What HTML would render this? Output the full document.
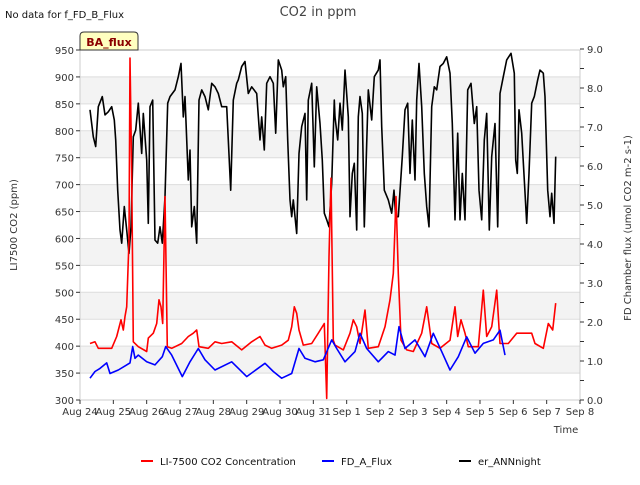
<!DOCTYPE html>
<html><head><meta charset="utf-8"><style>
body{margin:0;background:#fff;font-family:"Liberation Sans","DejaVu Sans",sans-serif}
svg text{font-family:"DejaVu Sans","Liberation Sans",sans-serif}
</style></head><body>
<svg id="chart" width="640" height="480" viewBox="0 0 640 480" xmlns="http://www.w3.org/2000/svg">
<g id="bands"></g>
<g id="grid"></g>
<g id="series"></g>
<rect x="80" y="50" width="500" height="350" fill="none" stroke="#ccc" stroke-width="1"/>
<g id="axes" font-size="10" fill="#333"></g>
<text x="318" y="16" text-anchor="middle" font-size="13" fill="#444">CO2 in ppm</text>
<text x="5" y="18" font-size="10" fill="#111">No data for f_FD_B_Flux</text>
<g>
<path d="M80,50 L80,36 Q80,32 84,32 L134,32 Q138,32 138,36 L138,50 Z" fill="#ffffc0" stroke="#333"/>
<text x="109" y="46" text-anchor="middle" font-size="11" font-weight="bold" fill="#8b0000">BA_flux</text>
</g>
<text transform="translate(17,225) rotate(-90)" text-anchor="middle" font-size="10" fill="#333">LI7500 CO2 (ppm)</text>
<text transform="translate(631,228) rotate(-90)" text-anchor="middle" font-size="10" fill="#333">FD Chamber flux (umol CO2 m-2 s-1)</text>
<text x="566" y="433" text-anchor="middle" font-size="10" fill="#333">Time</text>
<g font-size="10" fill="#111">
<g><line x1="141" y1="461" x2="153" y2="461" stroke="#ff0000" stroke-width="2"/><text x="160" y="465">LI-7500 CO2 Concentration</text></g>
<g><line x1="322" y1="461" x2="334" y2="461" stroke="#0000ff" stroke-width="2"/><text x="341" y="465">FD_A_Flux</text></g>
<g><line x1="459" y1="461" x2="471" y2="461" stroke="#000" stroke-width="2"/><text x="478" y="465">er_ANNnight</text></g>
</g>
</svg>
<script>
const xTickLabels=["Aug 24","Aug 25","Aug 26","Aug 27","Aug 28","Aug 29","Aug 30","Aug 31","Sep 1","Sep 2","Sep 3","Sep 4","Sep 5","Sep 6","Sep 7","Sep 8"];
const leftTicks=[300,350,400,450,500,550,600,650,700,750,800,850,900,950];
const rightTicks=[0,1,2,3,4,5,6,7,8,9];
const blackT=[0.30,0.40,0.47,0.55,0.67,0.75,0.85,0.95,1.03,1.07,1.13,1.20,1.25,1.33,1.40,1.47,1.53,1.60,1.67,1.75,1.85,1.90,2.00,2.05,2.10,2.18,2.25,2.33,2.40,2.47,2.55,2.63,2.70,2.85,2.95,3.03,3.10,3.15,3.25,3.30,3.35,3.43,3.50,3.57,3.65,3.75,3.85,3.95,4.05,4.15,4.25,4.40,4.52,4.60,4.70,4.75,4.85,4.95,5.05,5.15,5.30,5.40,5.45,5.53,5.60,5.70,5.80,5.87,5.95,6.05,6.10,6.17,6.23,6.30,6.35,6.40,6.50,6.57,6.65,6.75,6.80,6.85,6.95,7.03,7.10,7.20,7.27,7.33,7.40,7.47,7.55,7.63,7.65,7.73,7.80,7.87,7.95,8.05,8.10,8.17,8.23,8.30,8.35,8.40,8.47,8.53,8.60,8.65,8.75,8.83,8.95,9.00,9.05,9.13,9.25,9.35,9.42,9.47,9.55,9.67,9.75,9.83,9.90,9.97,10.05,10.10,10.17,10.25,10.33,10.40,10.47,10.55,10.63,10.70,10.80,10.90,11.00,11.10,11.17,11.25,11.33,11.40,11.47,11.55,11.63,11.73,11.83,11.90,11.97,12.05,12.13,12.20,12.28,12.35,12.45,12.53,12.60,12.70,12.80,12.93,13.03,13.07,13.12,13.17,13.25,13.33,13.40,13.47,13.55,13.63,13.73,13.80,13.90,13.95,14.03,14.10,14.15,14.22,14.27];
const blackV=[7.44,6.75,6.50,7.52,7.78,7.31,7.39,7.52,7.18,6.67,5.38,4.36,4.02,4.96,4.36,3.76,4.44,6.75,6.92,7.61,6.32,7.35,6.15,4.53,7.52,7.69,4.10,4.02,4.44,4.02,5.21,7.61,7.78,7.95,8.29,8.63,7.26,7.78,5.64,6.41,4.44,4.96,4.02,7.69,7.95,7.78,7.44,8.12,8.03,7.86,7.52,7.52,5.38,7.69,8.12,8.21,8.55,8.68,7.86,8.03,7.86,6.67,7.26,6.41,8.12,8.29,8.12,6.84,8.72,8.46,8.03,8.29,6.67,5.13,4.70,5.13,4.27,6.32,7.01,7.35,5.13,7.69,8.12,5.98,8.03,7.09,6.15,4.79,4.62,4.44,5.56,7.69,7.26,6.67,7.61,6.92,8.46,7.26,4.70,5.81,6.07,4.36,7.26,7.78,7.35,4.44,6.58,7.95,7.18,8.29,8.46,8.72,7.01,5.38,5.13,4.79,5.38,4.70,4.70,6.24,7.44,7.61,5.81,7.18,5.64,7.69,8.63,7.52,5.81,4.96,4.44,7.52,8.03,7.95,8.55,8.63,8.80,8.38,7.09,4.62,6.84,4.62,5.81,4.62,7.95,8.12,7.09,7.52,5.38,4.62,6.67,7.35,4.36,6.24,7.09,4.44,7.86,8.29,8.72,8.89,8.38,6.15,5.81,7.44,6.84,5.64,4.53,5.81,7.61,7.78,8.21,8.46,8.38,7.78,5.38,4.70,5.30,4.53,6.24];
const redT=[0.30,0.45,0.55,0.95,1.10,1.23,1.30,1.35,1.40,1.47,1.50,1.55,1.60,1.75,2.00,2.05,2.20,2.30,2.37,2.43,2.48,2.55,2.62,2.75,3.05,3.25,3.40,3.50,3.57,3.85,4.05,4.25,4.55,4.85,5.15,5.40,5.55,5.75,6.05,6.25,6.35,6.43,6.50,6.57,6.70,6.95,7.15,7.33,7.40,7.47,7.53,7.60,7.65,7.90,8.10,8.20,8.30,8.40,8.55,8.65,8.95,9.15,9.30,9.40,9.45,9.48,9.55,9.63,9.80,10.00,10.25,10.40,10.47,10.55,10.80,11.10,11.25,11.33,11.43,11.55,11.65,11.95,12.10,12.20,12.35,12.50,12.60,12.85,13.10,13.35,13.55,13.65,13.90,14.05,14.18,14.27];
const redV=[405,408,396,396,418,449,430,455,473,597,935,721,408,399,390,415,424,442,486,473,442,678,399,396,405,418,424,430,399,396,408,405,408,393,408,418,402,396,402,411,436,473,461,430,402,405,424,442,303,566,712,411,402,393,424,449,436,405,467,396,399,436,486,535,622,678,535,411,393,390,424,473,442,405,396,411,473,418,449,424,399,399,504,418,436,504,405,405,424,424,424,405,396,442,430,480];
const blueT=[0.30,0.45,0.60,0.80,0.90,1.15,1.40,1.50,1.58,1.65,1.75,2.00,2.25,2.47,2.57,2.75,3.07,3.30,3.55,3.75,4.05,4.55,5.00,5.55,5.80,6.05,6.35,6.57,6.75,7.05,7.30,7.55,7.70,7.95,8.25,8.40,8.60,8.95,9.25,9.45,9.57,9.75,10.05,10.35,10.60,10.85,11.10,11.35,11.60,11.85,12.10,12.40,12.60,12.75];
const blueV=[0.56,0.73,0.81,0.95,0.68,0.77,0.90,0.95,1.37,1.07,1.15,0.98,0.90,1.11,1.37,1.15,0.60,0.98,1.32,1.03,0.77,0.98,0.60,0.94,0.73,0.56,0.68,1.32,1.07,0.98,1.03,1.54,1.32,0.98,1.24,1.71,1.32,0.98,1.24,1.15,1.88,1.32,1.54,1.11,1.71,1.24,0.77,1.11,1.62,1.20,1.45,1.54,1.79,1.15];
const NS="http://www.w3.org/2000/svg";
const X0=80,X1=580,Y0=400,Y1=50;
const xS=t=>X0+t*(X1-X0)/15;
const yL=v=>Y0-(v-300)*(Y0-Y1)/650;
const yR=v=>Y0-v*(Y0-49)/9;
function mk(tag,attrs,parent){const e=document.createElementNS(NS,tag);for(const k in attrs)e.setAttribute(k,attrs[k]);parent.appendChild(e);return e;}
const bands=document.getElementById('bands'),grid=document.getElementById('grid'),axes=document.getElementById('axes'),series=document.getElementById('series');
for(let v=350;v<950;v+=100){const r=mk('rect',{x:X0,y:yL(v+50),width:X1-X0,height:yL(v)-yL(v+50),fill:'#f3f3f3'},bands);

}
leftTicks.forEach(v=>{const l=mk('line',{x1:X0,x2:X1,y1:yL(v),y2:yL(v),stroke:'#ddd','stroke-width':1},grid);


const tk=mk('line',{x1:X0-4,x2:X0,y1:yL(v),y2:yL(v),stroke:'#333'},axes);


const t=mk('text',{x:X0-6,y:yL(v)+4,'text-anchor':'end'},axes);t.textContent=v;

});
rightTicks.forEach(v=>{const tk=mk('line',{x1:X1,x2:X1+4,y1:yR(v),y2:yR(v),stroke:'#333'},axes);


if(v<9){const m=mk('line',{x1:X1,x2:X1+4,y1:yR(v+0.5),y2:yR(v+0.5),stroke:'#333'},axes);

}
const t=mk('text',{x:X1+7,y:yR(v)+4},axes);t.textContent=v.toFixed(1);

});
xTickLabels.forEach((s,i)=>{const tk=mk('line',{x1:xS(i),x2:xS(i),y1:Y0,y2:Y0+4,stroke:'#333'},axes);


const t=mk('text',{x:xS(i),y:Y0+15,'text-anchor':'middle'},axes);t.textContent=s;

});
function line(T,V,ys,color,name){const d=T.map((t,i)=>(i?'L':'M')+xS(t).toFixed(1)+','+ys(V[i]).toFixed(1)).join(' ');
const p=mk('path',{d:d,fill:'none',stroke:color,'stroke-width':1.6,'stroke-linejoin':'round'},series);

}
line(blackT,blackV,yR,'#000','er-annnight-line');
line(redT,redV,yL,'#ff0000','li7500-co2-line');
line(blueT,blueV,yR,'#0000ff','fd-a-flux-line');
</script>
</body></html>
